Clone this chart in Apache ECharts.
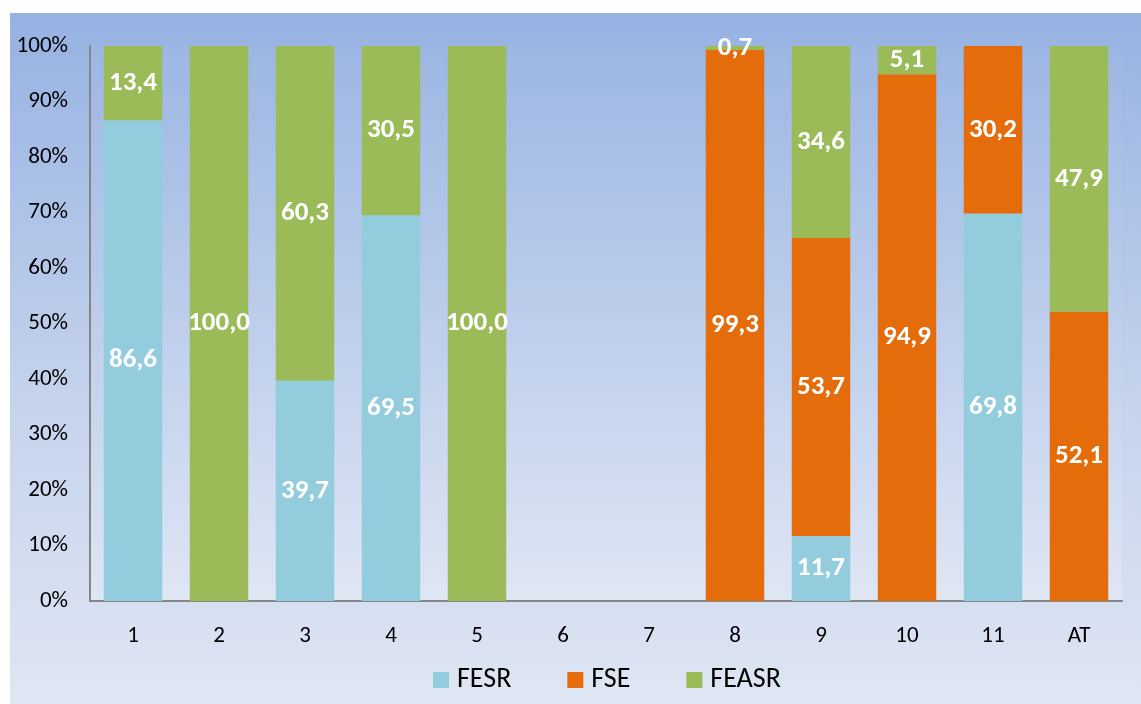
<!DOCTYPE html>
<html>
<head>
<meta charset="utf-8">
<script src="https://cdn.jsdelivr.net/npm/echarts@6/dist/echarts.min.js"></script>
<style>
  html, body { margin: 0; padding: 0; background: #fff; }
  #chart { width: 1141px; height: 704px; }
</style>
</head>
<body>
<div id="chart"></div>
<script>
// categories and the three shares (percent, '-' = no value)
var categories = ["1", "2", "3", "4", "5", "6", "7", "8", "9", "10", "11", "AT"];
var fesr  = [86.6, "-", 39.7, 69.5, "-", "-", "-", "-", 11.7, "-", 69.8, "-"];
var fse   = ["-", "-", "-", "-", "-", "-", "-", 99.3, 53.7, 94.9, 30.2, 52.1];
var feasr = [13.4, 100.0, 60.3, 30.5, 100.0, "-", "-", 0.7, 34.6, 5.1, "-", 47.9];
var yTicks = [0, 10, 20, 30, 40, 50, 60, 70, 80, 90, 100];

var font = "Carlito, Lato, 'Open Sans', sans-serif";

function label() {
    return {
        show: true,
        position: "inside",
        color: "#fff",
        fontWeight: "bold",
        fontSize: 27,
        fontFamily: font,
        formatter: function (p) {
            return p.value.toFixed(1).replace(".", ",");
        }
    };
}

function bar(name, color, data) {
    return {
        name: name,
        type: "bar",
        stack: "total",
        barWidth: "68%",
        itemStyle: { color: color },
        label: label(),
        data: data
    };
}

var myChart = echarts.init(document.getElementById("chart"));
myChart.setOption({
    animation: false,
    backgroundColor: "#fff",
    graphic: [{
        type: "rect",
        z: -10,
        shape: { x: 10, y: 13, width: 1131, height: 691 },
        style: {
            fill: new echarts.graphic.LinearGradient(0, 0, 0, 1, [
                { offset: 0, color: "#96b2e2" },
                { offset: 0.55, color: "#c4d2ec" },
                { offset: 1, color: "#dfe6f3" }
            ])
        }
    }],
    grid: {
        left: 90,
        right: 19,
        top: 46,
        bottom: 103,
        show: true,
        borderWidth: 0,
        backgroundColor: new echarts.graphic.LinearGradient(0, 0, 0, 1, [
            { offset: 0, color: "#9cb6e3" },
            { offset: 1, color: "#dfe6f4" }
        ])
    },
    legend: {
        left: 428,
        bottom: 5,
        itemWidth: 16,
        itemHeight: 16,
        itemGap: 56,
        icon: "rect",
        textStyle: { fontSize: 28, fontFamily: font, color: "#000", padding: [0, 0, 0, 3] },
        data: ["FESR", "FSE", "FEASR"]
    },
    xAxis: {
        type: "category",
        data: categories,
        axisLine: { lineStyle: { color: "#868686", width: 2 } },
        axisTick: { show: false },
        axisLabel: { fontSize: 23, fontFamily: font, color: "#000", margin: 24 }
    },
    yAxis: {
        type: "value",
        min: yTicks[0],
        max: yTicks[yTicks.length - 1],
        interval: yTicks[1] - yTicks[0],
        splitLine: { show: false },
        axisLine: { show: true, lineStyle: { color: "#868686", width: 2 } },
        axisTick: { show: false },
        axisLabel: {
            fontSize: 23,
            fontFamily: font,
            color: "#000",
            margin: 22,
            formatter: "{value}%"
        }
    },
    series: [
        bar("FESR", "#93cddd", fesr),
        bar("FSE", "#e46c0a", fse),
        bar("FEASR", "#9bbb59", feasr)
    ]
});
</script>
</body>
</html>
